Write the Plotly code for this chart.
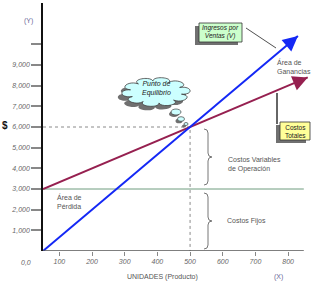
import math
import plotly.graph_objects as go

# --- data -------------------------------------------------------------
unidades_ventas = [50, 500, 830]
ingresos = [0, 6000, 10400]
unidades_costos = [50, 500, 860]
costos_totales = [3000, 6000, 8400]
costos_fijos = 3000
punto_equilibrio = (500, 6000)

x_ticks = [100, 200, 300, 400, 500, 600, 700, 800]
y_ticks = [1000, 2000, 3000, 4000, 5000, 6000, 7000, 8000, 9000, 10000]
y_ticktext = ["1,000", "2,000", "3,000", "4,000", "5,000", "6,000",
              "7,000", "8,000", "9,000", ""]

# --- frame ------------------------------------------------------------
FIG_W, FIG_H = 320, 285
M_L, M_R, M_T, M_B = 43, 9, 3, 34
X0, X1 = 50, 870
Y0, Y1 = 0, 12000
PW, PH = FIG_W - M_L - M_R, FIG_H - M_T - M_B
FONT = "Liberation Sans"


def ux(px):
    """pixel column -> x data value"""
    return X0 + (px - M_L) * (X1 - X0) / PW


def uy(py):
    """pixel row -> y data value"""
    return Y0 + (FIG_H - M_B - py) * (Y1 - Y0) / PH


def paper_x(px):
    return (px - M_L) / PW


def paper_y(py):
    return (FIG_H - M_B - py) / PH


def path_from_px(points_cmds):
    out = []
    for cmd, pts in points_cmds:
        coords = " ".join(f"{ux(a):.3f},{uy(b):.3f}" for a, b in pts)
        out.append(f"{cmd} {coords}")
    return " ".join(out)


def brace(xp, top, bot, tip=4, curl=4):
    mid = (top + bot) / 2
    return path_from_px([
        ("M", [(xp - curl, top)]),
        ("Q", [(xp, top), (xp, top + 4)]),
        ("L", [(xp, mid - 4)]),
        ("Q", [(xp, mid), (xp + tip, mid)]),
        ("Q", [(xp, mid), (xp, mid + 4)]),
        ("L", [(xp, bot - 4)]),
        ("Q", [(xp, bot), (xp - curl, bot)]),
    ])


def cloud(cx, cy, rx, ry, n=10, k=1.5):
    cmds = []
    angs = [2 * math.pi * i / n + 0.2 for i in range(n + 1)]
    p = lambda a, f=1.0: (cx + rx * f * math.cos(a), cy + ry * f * math.sin(a))
    cmds.append(("M", [p(angs[0])]))
    for a0, a1 in zip(angs[:-1], angs[1:]):
        c1 = p(a0 + (a1 - a0) * 0.05, k)
        c2 = p(a0 + (a1 - a0) * 0.95, k)
        cmds.append(("C", [c1, c2, p(a1)]))
    return path_from_px(cmds) + " Z"


def ellipse(cx, cy, rx, ry, **kw):
    return dict(type="circle", xref="x", yref="y",
                x0=ux(cx - rx), x1=ux(cx + rx), y0=uy(cy + ry), y1=uy(cy - ry), **kw)


def rect(x0, y0, x1, y1, **kw):
    return dict(type="rect", xref="x", yref="y",
                x0=ux(x0), x1=ux(x1), y0=uy(y1), y1=uy(y0), **kw)


fig = go.Figure()

# fixed costs line
fig.add_trace(go.Scatter(x=[X0, 848], y=[costos_fijos, costos_fijos], mode="lines",
                         line=dict(color="#6f9c7f", width=1), hoverinfo="skip"))
# guide lines to the break-even point
fig.add_trace(go.Scatter(x=[X0, punto_equilibrio[0], punto_equilibrio[0]],
                         y=[punto_equilibrio[1], punto_equilibrio[1], 0], mode="lines",
                         line=dict(color="#8a8a8a", width=1, dash="dot"), hoverinfo="skip"))
# total costs
fig.add_trace(go.Scatter(x=unidades_costos, y=costos_totales, mode="lines",
                         line=dict(color="#962050", width=2), hoverinfo="skip"))
# revenue
fig.add_trace(go.Scatter(x=unidades_ventas, y=ingresos, mode="lines",
                         line=dict(color="#1428f5", width=2), hoverinfo="skip"))

shapes = []
# x axis line
shapes.append(dict(type="line", xref="x", yref="y", x0=X0, x1=848, y0=0, y1=0,
                   line=dict(color="#555555", width=1.5)))
# braces
shapes.append(dict(type="path", xref="x", yref="y", path=brace(208, 129, 185),
                   line=dict(color="#777777", width=1)))
shapes.append(dict(type="path", xref="x", yref="y", path=brace(208, 193, 249),
                   line=dict(color="#777777", width=1)))

# thought cloud with shadow
shapes.append(dict(type="path", xref="x", yref="y", path=cloud(152, 96, 26, 11),
                   fillcolor="#707070", line=dict(width=0)))
shapes.append(dict(type="path", xref="x", yref="y", path=cloud(156, 92, 26, 11),
                   fillcolor="#ccffff", line=dict(color="#404040", width=0.8)))
for cx, cy, rx, ry in [(176, 112, 5, 3), (181, 119, 3.5, 2.3), (186, 124, 2, 1.5)]:
    shapes.append(ellipse(cx - 2, cy + 2, rx, ry, fillcolor="#707070", line=dict(width=0)))
    shapes.append(ellipse(cx, cy, rx, ry, fillcolor="#ccffff",
                          line=dict(color="#404040", width=0.7)))

# callout boxes with shadows
shapes.append(rect(195, 26, 238, 45, fillcolor="#707070", line=dict(width=0)))
shapes.append(rect(199, 23, 242, 42, fillcolor="#ccffcc", line=dict(color="#333333", width=0.8)))
shapes.append(dict(type="line", xref="x", yref="y", x0=ux(246), y0=uy(28), x1=ux(276), y1=uy(48),
                   line=dict(color="#222222", width=0.8)))

shapes.append(dict(type="line", xref="x", yref="y", x0=ux(277), y0=uy(93), x1=ux(277), y1=uy(124),
                   line=dict(color="#666666", width=2)))
shapes.append(rect(276, 125, 306, 143, fillcolor="#707070", line=dict(width=0)))
shapes.append(rect(280, 122, 310, 140, fillcolor="#ffff99", line=dict(color="#333333", width=0.8)))

grey_txt = "#555555"
ann = []


def text(px, py, s, size=7, color=grey_txt, italic=False, xanchor="center", align="center"):
    ann.append(dict(x=paper_x(px), y=paper_y(py), xref="paper", yref="paper", text=s,
                    showarrow=False, xanchor=xanchor, yanchor="middle", align=align,
                    font=dict(family=FONT, size=size, color=color,
                              style="italic" if italic else "normal")))


# arrowheads on the two lines
for xs, ys, col in [(unidades_ventas, ingresos, "#1428f5"),
                    (unidades_costos, costos_totales, "#962050")]:
    ann.append(dict(x=xs[-1], y=ys[-1], xref="x", yref="y", axref="x", ayref="y",
                    ax=xs[-1] - (xs[-1] - xs[-2]) * 0.08, ay=ys[-1] - (ys[-1] - ys[-2]) * 0.08,
                    showarrow=True, arrowhead=2, arrowsize=1.5, arrowwidth=2,
                    arrowcolor=col, standoff=0, text=""))

text(28, 21, "(Y)", color="#6a6a9a")
text(5, 125, "<b>$</b>", size=10, color="#111111")
text(26, 262, "0,0", italic=True, color="#666666")
text(162, 277, "UNIDADES (Producto)")
text(278, 277, "(X)", color="#6a6a9a")
text(55, 201.5, "Área de<br>Pérdida", xanchor="left", align="left")
text(275, 66, "Área de<br>Ganancias", xanchor="left", align="left")
text(226, 164, "Costos Variables<br>de Operación", xanchor="left", align="left")
text(225, 221, "Costos Fijos", xanchor="left", align="left")
text(156, 88.5, "Punto de<br>Equilibrio", italic=True, color="#222222")
text(220.5, 32.5, "Ingresos por<br>Ventas (V)", size=6.5, italic=True, color="#222222")
text(295, 131, "Costos<br>Totales", size=6.5, color="#222222")

fig.update_layout(
    width=FIG_W, height=FIG_H,
    margin=dict(l=M_L, r=M_R, t=M_T, b=M_B, pad=0),
    paper_bgcolor="white", plot_bgcolor="white",
    showlegend=False,
    shapes=shapes, annotations=ann,
    xaxis=dict(range=[X0, X1], showgrid=False, zeroline=False, showline=False,
               tickvals=x_ticks, ticks="outside", ticklen=4, tickcolor="#888888",
               tickwidth=1, tickfont=dict(family=FONT, size=7, color="#666666", style="italic")),
    yaxis=dict(range=[Y0, Y1], showgrid=False, zeroline=False, showline=True,
               linecolor="#111111", linewidth=1.5,
               tickvals=y_ticks, ticktext=y_ticktext, ticks="outside", ticklen=10,
               tickcolor="#888888", tickwidth=1.5,
               tickfont=dict(family=FONT, size=7, color="#666666", style="italic")),
)

fig.write_html("out.html")
